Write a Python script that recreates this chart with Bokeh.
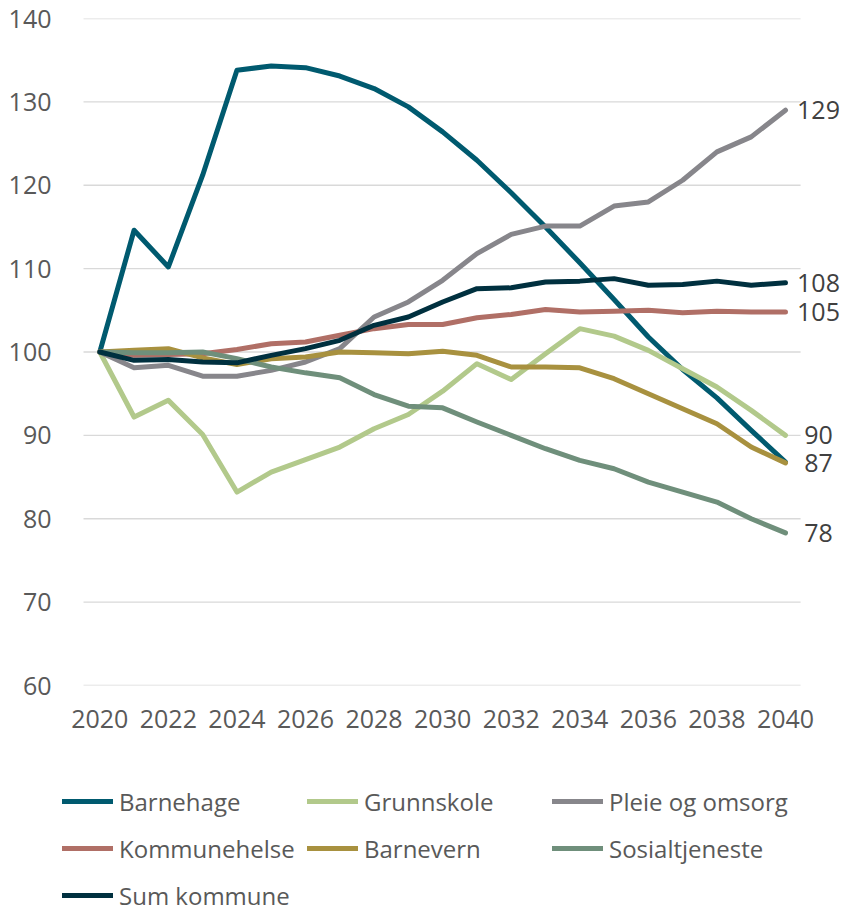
from bokeh.plotting import figure
from bokeh.models import Range1d, FixedTicker, Legend, LegendItem, ColumnDataSource
from bokeh.layouts import column
from bokeh.core.properties import value
from bokeh.embed import file_html
from bokeh.resources import INLINE

years = list(range(2020, 2041))

barnehage = [100, 114.6, 110.2, 121.2, 133.8, 134.3, 134.1, 133.1, 131.6, 129.4, 126.4,
             123.0, 119.1, 115.0, 110.7, 106.3, 101.8, 97.9, 94.5, 90.6, 86.8]
grunnskole = [100, 92.2, 94.2, 90.1, 83.2, 85.6, 87.1, 88.6, 90.8, 92.5, 95.3,
              98.6, 96.7, 99.8, 102.8, 101.9, 100.2, 98.0, 95.8, 93.0, 90.0]
pleie = [100, 98.1, 98.4, 97.1, 97.1, 97.8, 98.8, 100.4, 104.2, 106.0, 108.6,
         111.8, 114.1, 115.1, 115.1, 117.5, 118.0, 120.6, 124.0, 125.8, 129.0]
kommunehelse = [100, 99.6, 99.7, 99.8, 100.3, 101.0, 101.2, 102.0, 102.8, 103.3, 103.3,
                104.1, 104.5, 105.1, 104.8, 104.9, 105.0, 104.7, 104.9, 104.8, 104.8]
barnevern = [100, 100.2, 100.4, 99.3, 98.5, 99.2, 99.4, 100.0, 99.9, 99.8, 100.1,
             99.6, 98.2, 98.2, 98.1, 96.8, 95.0, 93.2, 91.4, 88.6, 86.7]
sosialtjeneste = [100, 99.9, 99.9, 100.0, 99.2, 98.2, 97.5, 96.9, 94.9, 93.5, 93.3,
                  91.6, 90.0, 88.4, 87.0, 86.0, 84.4, 83.2, 82.0, 80.0, 78.3]
sum_kommune = [100, 99.0, 99.1, 98.8, 98.7, 99.6, 100.4, 101.4, 103.2, 104.2, 106.0,
               107.6, 107.7, 108.4, 108.5, 108.8, 108.0, 108.1, 108.5, 108.0, 108.3]

series_names = ["Barnehage", "Grunnskole", "Pleie og omsorg", "Kommunehelse",
                "Barnevern", "Sosialtjeneste", "Sum kommune"]
series_values = [barnehage, grunnskole, pleie, kommunehelse, barnevern, sosialtjeneste, sum_kommune]
series_colors = ["#005a6f", "#b2c98b", "#87868b", "#b06f66", "#a8913f", "#6f8f7b", "#00303f"]
labelled = ["Pleie og omsorg", "Sum kommune", "Kommunehelse", "Grunnskole", "Barnevern", "Sosialtjeneste"]

x_ticks = list(range(2020, 2041, 2))
y_ticks = list(range(60, 141, 10))

FONT = "Open Sans"

# ---- main chart ----
p = figure(width=854, height=745,
           x_range=Range1d(2018.883, 2041.896), y_range=Range1d(60, 140),
           output_backend="svg", toolbar_location=None,
           min_border_left=61, min_border_right=4, min_border_top=18, min_border_bottom=60)
p.outline_line_color = None
p.xgrid.visible = False
p.ygrid.visible = False

p.segment(x0=[2019.525] * len(y_ticks), y0=y_ticks, x1=[2040.44] * len(y_ticks), y1=y_ticks,
          line_color="#d9d9d9", line_width=1.4)

for ax in (p.xaxis[0], p.yaxis[0]):
    ax.axis_line_color = None
    ax.major_tick_line_color = None
    ax.minor_tick_line_color = None
    ax.major_label_text_font = FONT
    ax.major_label_text_font_size = "25px"
    ax.major_label_text_color = "#595959"
p.xaxis.ticker = FixedTicker(ticks=x_ticks)
p.yaxis.ticker = FixedTicker(ticks=y_ticks)
p.xaxis.formatter.use_scientific = False
p.yaxis.major_label_standoff = 4
p.xaxis.major_label_standoff = 18

for name, vals, col in zip(series_names, series_values, series_colors):
    p.line(years, vals, line_color=col, line_width=5, line_cap="round", line_join="round")

lab_y = [series_values[series_names.index(n)][-1] for n in labelled]
lab_t = [str(round(v)) for v in lab_y]
src = ColumnDataSource(dict(x=[years[-1]] * len(lab_y), y=lab_y, t=lab_t))
p.text(x="x", y="y", text="t", source=src, x_offset=33, text_align="center",
       text_baseline="middle", text_font=value(FONT), text_font_size="25px",
       text_color="#404040")

# ---- legend panel (same series, out of its view range, only used for legend keys) ----
pl = figure(width=854, height=167, x_range=Range1d(0, 1), y_range=Range1d(0, 1),
            x_axis_type=None, y_axis_type=None, output_backend="svg", toolbar_location=None,
            min_border=0)
pl.outline_line_color = None
pl.xgrid.visible = False
pl.ygrid.visible = False
items = []
for name, vals, col in zip(series_names, series_values, series_colors):
    r = pl.line(years, vals, line_color=col, line_width=5, line_cap="round", line_join="round")
    items.append(LegendItem(label=name, renderers=[r]))

legend = Legend(items=items, location=(1, -3), orientation="horizontal", ncols=3,
                border_line_color=None, background_fill_alpha=0, padding=0, margin=0,
                label_text_font=FONT, label_text_font_size="24px", label_text_color="#595959",
                glyph_width=51, glyph_height=40, label_height=40, label_width=181,
                label_standoff=6, spacing=7)
pl.add_layout(legend)

layout = column(p, pl, spacing=0)
open("out.html", "w").write(file_html(layout, INLINE))
